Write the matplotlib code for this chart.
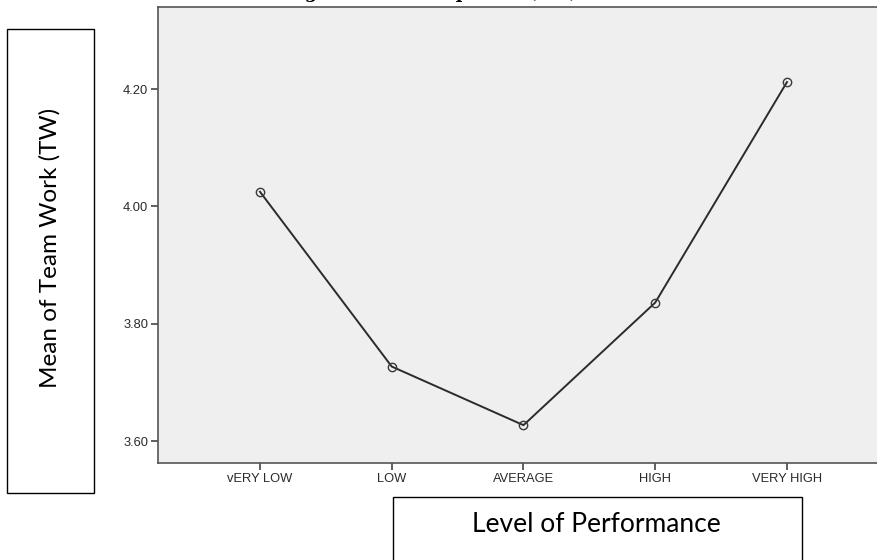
import matplotlib.pyplot as plt
from matplotlib.patches import Rectangle

# mean of team work per level of performance
levels = ["vERY LOW", "LOW", "AVERAGE", "HIGH", "VERY HIGH"]
means = [4.025, 3.727, 3.627, 3.836, 4.212]
yticks = [3.60, 3.80, 4.00, 4.20]

W, H = 878, 560
fig = plt.figure(figsize=(W / 100, H / 100), dpi=100)
fig.patch.set_facecolor("white")

# plot area in pixels: left 158, top 7, bottom 463, runs off the right edge
ax = fig.add_axes([158 / W, (H - 463) / H, 1 - 158 / W, (463 - 7) / H])
ax.set_facecolor("#efefef")

xpos = list(range(len(levels)))
ax.plot(xpos, means, color="#2b2b2b", lw=1.4, marker="o", ms=6,
        mfc="none", mec="#3a3a3a", mew=1.0)

ax.set_xlim(-0.774, 4.691)
ax.set_ylim(3.5625, 4.340)
ax.set_xticks(xpos)
ax.set_xticklabels(levels)
ax.set_yticks(yticks)
ax.set_yticklabels(["%.2f" % v for v in yticks])

for lab in ax.get_xticklabels() + ax.get_yticklabels():
    lab.set_fontfamily("Liberation Sans")
    lab.set_fontsize(9.3)
    lab.set_color("#2a2a2a")

ax.tick_params(axis="both", direction="out", length=5, width=1.2,
               color="#444444", pad=2)
for side in ["left", "bottom", "top"]:
    ax.spines[side].set_color("#555555")
    ax.spines[side].set_linewidth(1.2)
ax.spines["right"].set_visible(False)

# boxed axis titles
fig.patches.append(Rectangle((7.3 / W, 1 - 492.7 / H), 87 / W, 463.4 / H,
                             transform=fig.transFigure, fill=False,
                             ec="black", lw=1.0))
fig.text(50 / W, 1 - 247.5 / H, "Mean of Team Work (TW)", rotation=90,
         ha="center", va="center", fontsize=17.5, family="Lato", color="black")

fig.patches.append(Rectangle((392.7 / W, 1 - 600 / H), 409.6 / W, 103.3 / H,
                             transform=fig.transFigure, fill=False,
                             ec="black", lw=1.0))
fig.text(596 / W, 1 - 524 / H, "Level of Performance",
         ha="center", va="center", fontsize=19, family="Lato", color="black")

# cut-off caption at the very top
fig.text(432 / W, 1 + 2.5 / H, "Figure 4: Means plot of (TW)", ha="center",
         va="baseline", fontsize=13, family="DejaVu Serif", weight="bold")

plt.savefig("out.png", dpi=100)
plt.close()
